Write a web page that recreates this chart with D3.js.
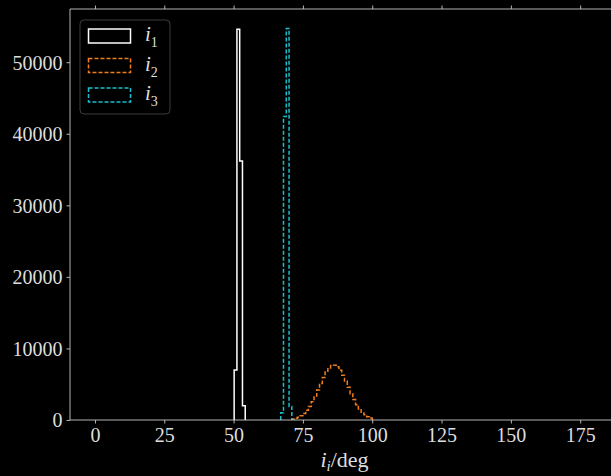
<!DOCTYPE html>
<html>
<head>
<meta charset="utf-8">
<script src="https://cdn.jsdelivr.net/npm/d3@7"></script>
<style>
html,body{margin:0;padding:0;background:#000;}
svg{display:block;}
</style>
</head>
<body>
<svg id="chart" width="611" height="476"></svg>
<script>
// ---- data (degrees, counts per 1-degree bin) ----
const binWidth = 1;
const i1BinStarts = [50.2, 51.2, 52.2, 53.2];
const i1Counts = [7000, 54600, 36200, 2000];

const i2BinStarts = [71,72,73,74,75,76,77,78,79,80,81,82,83,84,85,86,87,88,89,90,91,92,93,94,95,96,97,98,99];
const i2Counts = [140,240,390,610,920,1350,1890,2560,3340,4200,5100,5950,6700,7270,7600,7660,7440,6960,6270,5450,4560,3680,2860,2140,1550,1080,720,465,290];

const i3BinStarts = [67, 68, 69, 70];
const i3Counts = [1000, 42400, 54700, 1900];

const xTicks = [0, 25, 50, 75, 100, 125, 150, 175];
const yTicks = [0, 10000, 20000, 30000, 40000, 50000];
const seriesNames = ["1", "2", "3"];
const seriesColors = ["#ffffff", "#f07c1c", "#17becf"];

// ---- layout ----
const W = 611, H = 476;
const mLeft = 70, mTop = 9, mRight = 619, mBottom = 420;
const svg = d3.select("#chart");
svg.append("rect").attr("width", W).attr("height", H).attr("fill", "#000");

const x = d3.scaleLinear().domain([-9, 189]).range([mLeft, mRight]);
const yMax = 1.05 * d3.max([...i1Counts, ...i2Counts, ...i3Counts]);
const y = d3.scaleLinear().domain([0, yMax]).range([mBottom, mTop]);

const fontFam = "'Liberation Serif', 'DejaVu Serif', serif";
const textCol = "#dedede";
const spineCol = "#c8c8c8";

// ---- histograms ----
function stepPoints(starts, counts) {
  const pts = [[starts[0], 0]];
  starts.forEach((s, i) => {
    pts.push([s, counts[i]]);
    pts.push([s + binWidth, counts[i]]);
  });
  pts.push([starts[starts.length - 1] + binWidth, 0]);
  return pts;
}
const line = d3.line().x(d => x(d[0])).y(d => y(d[1]));

const series = [
  {starts: i1BinStarts, counts: i1Counts, color: seriesColors[0], dash: null},
  {starts: i2BinStarts, counts: i2Counts, color: seriesColors[1], dash: "4,2"},
  {starts: i3BinStarts, counts: i3Counts, color: seriesColors[2], dash: "4,2"}
];
const g = svg.append("g");
series.forEach(s => {
  g.append("path")
    .attr("d", line(stepPoints(s.starts, s.counts)))
    .attr("fill", "none")
    .attr("stroke", s.color)
    .attr("stroke-width", 1.5)
    .attr("stroke-dasharray", s.dash)
    .attr("stroke-linejoin", "miter");
});

// ---- axes ----
const xAxis = svg.append("g").attr("transform", `translate(0,${mBottom})`)
  .call(d3.axisBottom(x).tickValues(xTicks).tickSize(3.5).tickPadding(3).tickFormat(d3.format("d")));
const xAxisTop = svg.append("g").attr("transform", `translate(0,${mTop})`)
  .call(d3.axisTop(x).tickValues(xTicks).tickSize(3.5).tickFormat(""));
const yAxis = svg.append("g").attr("transform", `translate(${mLeft},0)`)
  .call(d3.axisLeft(y).tickValues(yTicks).tickSize(3.5).tickPadding(4).tickFormat(d3.format("d")));

[xAxis, xAxisTop, yAxis].forEach(a => {
  a.select(".domain").remove();
  a.selectAll(".tick line").attr("stroke", spineCol).attr("stroke-width", 0.9);
  a.selectAll(".tick text").attr("fill", textCol).style("font-family", fontFam).style("font-size", "20px");
});
xAxis.selectAll(".tick text").attr("dy", "0.75em");
yAxis.selectAll(".tick text").attr("dy", "0.34em");

// spines
const spines = svg.append("g").attr("stroke", spineCol).attr("stroke-width", 0.9).attr("fill", "none");
spines.append("line").attr("x1", mLeft).attr("x2", mLeft).attr("y1", mTop).attr("y2", mBottom);
spines.append("line").attr("x1", mLeft).attr("x2", mRight).attr("y1", mBottom).attr("y2", mBottom);
spines.append("line").attr("x1", mLeft).attr("x2", mRight).attr("y1", mTop).attr("y2", mTop);
spines.append("line").attr("x1", mRight).attr("x2", mRight).attr("y1", mTop).attr("y2", mBottom);

// x label
const xl = svg.append("text")
  .attr("x", (mLeft + mRight) / 2).attr("y", 467)
  .attr("text-anchor", "middle")
  .attr("fill", textCol)
  .style("font-family", fontFam).style("font-size", "22px");
xl.append("tspan").style("font-style", "italic").text("i");
xl.append("tspan").style("font-style", "italic").style("font-size", "15px").attr("dy", 4).text("i");
xl.append("tspan").attr("dy", -4).text("/deg");

// ---- legend ----
const lg = svg.append("g");
lg.append("rect").attr("x", 80).attr("y", 20).attr("width", 90).attr("height", 94).attr("rx", 4)
  .attr("fill", "#000").attr("stroke", "#3c3c3c").attr("stroke-width", 1);
series.forEach((s, i) => {
  const yy = 29 + i * 29.5;
  lg.append("rect").attr("x", 88.5).attr("y", yy).attr("width", 42).attr("height", 14)
    .attr("fill", "none").attr("stroke", s.color).attr("stroke-width", 1.5)
    .attr("stroke-dasharray", s.dash);
  const t = lg.append("text").attr("x", 145).attr("y", yy + 12)
    .attr("fill", textCol).style("font-family", fontFam).style("font-size", "21px");
  t.append("tspan").style("font-style", "italic").text("i");
  t.append("tspan").style("font-size", "14px").attr("dy", 6).text(seriesNames[i]);
});
</script>
</body>
</html>
